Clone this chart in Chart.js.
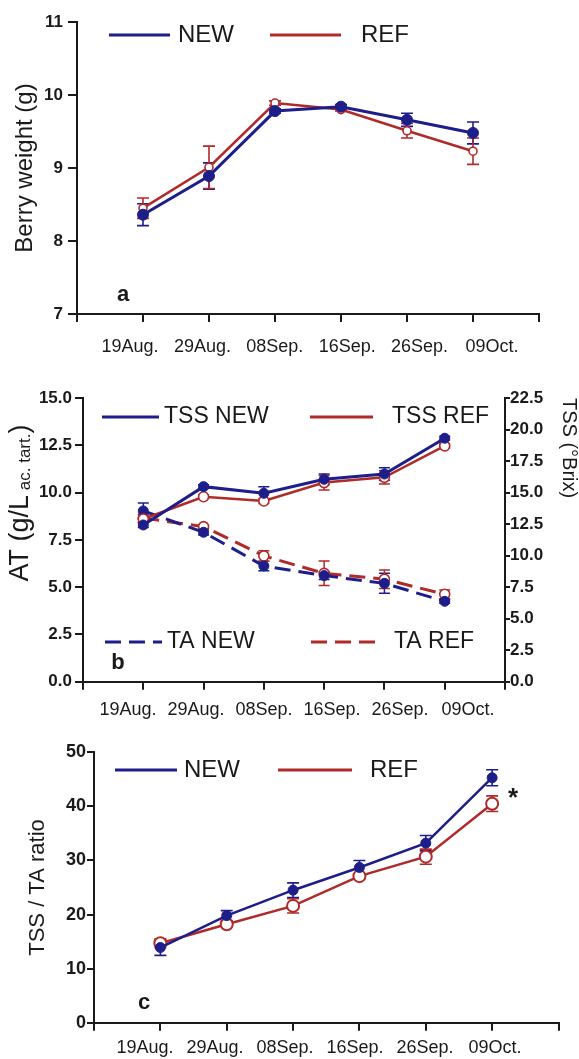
<!DOCTYPE html>
<html><head><meta charset="utf-8">
<script src="https://cdn.jsdelivr.net/npm/chart.js@4.4.1/dist/chart.umd.min.js"></script>
<style>
html,body{margin:0;padding:0;background:#fff;}
#wrap{position:relative;width:579px;height:1059px;overflow:hidden;background:#fff;}
canvas{position:absolute;left:0;}
</style></head><body>
<div id="wrap">
<canvas id="ca" width="579" height="365" style="top:0px"></canvas>
<canvas id="cb" width="579" height="360" style="top:365px"></canvas>
<canvas id="cc" width="579" height="334" style="top:725px"></canvas>
</div>
<script>
// ---------- data ----------
const DATES = ['19Aug.', '29Aug.', '08Sep.', '16Sep.', '26Sep.', '09Oct.'];

// panel a: berry weight (g)
const WEIGHT_NEW    = [8.36, 8.89, 9.78, 9.84, 9.66, 9.48];
const WEIGHT_NEW_SE = [0.15, 0.18, 0.03, 0.03, 0.09, 0.15];
const WEIGHT_REF    = [8.45, 9.01, 9.89, 9.80, 9.51, 9.23];
const WEIGHT_REF_SE = [0.14, 0.29, 0.03, 0.02, 0.10, 0.18];

// panel b: TSS (°Brix, right axis) and titratable acidity (g/L, left axis)
const TSS_NEW    = [12.43, 15.47, 14.94, 16.05, 16.47, 19.31];
const TSS_NEW_SE = [0.20, 0.15, 0.53, 0.42, 0.50, 0.15];
const TSS_REF    = [12.90, 14.67, 14.33, 15.79, 16.21, 18.70];
const TSS_REF_SE = [0.30, 0.15, 0.20, 0.58, 0.53, 0.15];
const TA_NEW     = [9.03, 7.90, 6.12, 5.61, 5.20, 4.25];
const TA_NEW_SE  = [0.42, 0.15, 0.25, 0.20, 0.53, 0.10];
const TA_REF     = [8.65, 8.20, 6.65, 5.73, 5.42, 4.62];
const TA_REF_SE  = [0.20, 0.10, 0.28, 0.65, 0.49, 0.23];

// panel c: TSS / TA ratio
const RATIO_NEW    = [13.9, 19.8, 24.5, 28.7, 33.2, 45.3];
const RATIO_NEW_SE = [1.45, 0.92, 1.35, 1.30, 1.42, 1.48];
const RATIO_REF    = [14.7, 18.2, 21.6, 27.1, 30.7, 40.5];
const RATIO_REF_SE = [0.80, 0.30, 1.32, 0.40, 1.39, 1.45];

// ---------- styling ----------
const BLUE = '#1e1e8a';
const RED = '#b02a2a';
const INK = '#1a1a1a';
const FONT = "'Liberation Sans', Arial, Helvetica, sans-serif";

function pts(arr) { return arr.map((v, i) => ({ x: i + 1, y: v })); }

// error bars drawn through the dataset's own y scale
const errorBars = {
  id: 'errorBars',
  beforeDatasetsDraw(chart, args, opts) {
    const ctx = chart.ctx;
    chart.data.datasets.forEach((ds, i) => {
      if (!ds.errors) return;
      const meta = chart.getDatasetMeta(i);
      const ys = chart.scales[meta.yAxisID];
      ctx.save();
      ctx.strokeStyle = ds.borderColor;
      ctx.lineWidth = opts.lineWidth || 1.5;
      ctx.setLineDash([]);
      const cap = opts.cap || 6;
      meta.data.forEach((el, j) => {
        const v = ds.data[j].y, e = ds.errors[j];
        const x = el.x;
        const yt = ys.getPixelForValue(v + e), yb = ys.getPixelForValue(v - e);
        ctx.beginPath();
        ctx.moveTo(x, yt); ctx.lineTo(x, yb);
        ctx.moveTo(x - cap, yt); ctx.lineTo(x + cap, yt);
        ctx.moveTo(x - cap, yb); ctx.lineTo(x + cap, yb);
        ctx.stroke();
      });
      ctx.restore();
    });
  }
};

// line legend placed inside the plot, using the dataset styles and labels
const lineLegend = {
  id: 'lineLegend',
  afterDraw(chart, args, opts) {
    const ctx = chart.ctx;
    (opts.items || []).forEach(it => {
      const ds = chart.data.datasets[it.ds];
      ctx.save();
      ctx.strokeStyle = ds.borderColor;
      ctx.lineWidth = opts.lineWidth || 3;
      ctx.setLineDash(it.dash ? ds.borderDash : []);
      ctx.beginPath(); ctx.moveTo(it.x1, it.y); ctx.lineTo(it.x2, it.y); ctx.stroke();
      ctx.setLineDash([]);
      ctx.fillStyle = INK;
      ctx.font = opts.font;
      ctx.textBaseline = 'middle';
      ctx.textAlign = 'left';
      ctx.fillText(ds.label, it.tx, it.y);
      ctx.restore();
    });
  }
};

// extra annotations (panel letters, asterisk, composite axis title)
const panelText = {
  id: 'panelText',
  afterDraw(chart, args, opts) {
    const ctx = chart.ctx;
    (opts.texts || []).forEach(t => {
      ctx.save();
      ctx.translate(t.x, t.y);
      ctx.rotate(t.rot || 0);
      ctx.fillStyle = INK;
      ctx.textBaseline = 'middle';
      ctx.textAlign = 'left';
      const parts = t.parts;
      let total = 0;
      parts.forEach(p => { ctx.font = p.font; total += ctx.measureText(p.text).width; });
      let cx = t.align === 'left' ? 0 : -total / 2;
      parts.forEach(p => {
        ctx.font = p.font;
        ctx.fillText(p.text, cx, p.dy || 0);
        cx += ctx.measureText(p.text).width;
      });
      ctx.restore();
    });
  }
};

function yAxis(o) {
  return {
    type: 'linear', position: o.position || 'left', min: o.min, max: o.max,
    ticks: { stepSize: o.step, padding: o.pad, color: INK,
      font: { family: FONT, size: o.fsize || 15, weight: 'bold' },
      callback: o.fmt || (v => v) },
    grid: { display: true, drawOnChartArea: false, drawTicks: true, tickLength: o.tick || 8, color: INK, lineWidth: 2 },
    border: { display: true, color: INK, width: 2 },
    title: o.title || { display: false },
    afterFit(s) { s.width = o.width; }
  };
}

function makeChart(id, c) {
  const xlMin = 1 - (c.labFirst - c.left) / c.labStep;
  const xlMax = xlMin + (c.right - c.left) / c.labStep;
  const scales = Object.assign({
    x: {
      type: 'linear', position: 'bottom', min: 0, max: 7, weight: 0,
      ticks: { display: false, stepSize: 1 },
      grid: { display: true, drawOnChartArea: false, drawTicks: true, tickLength: 8, color: INK, lineWidth: 2 },
      border: { display: true, color: INK, width: 2 },
      afterFit(s) { s.height = 10; }
    },
    xl: {
      type: 'linear', position: 'bottom', min: xlMin, max: xlMax, weight: 1,
      afterBuildTicks(s) { s.ticks = DATES.map((_, i) => ({ value: i + 1 })); },
      ticks: { autoSkip: false, maxRotation: 0, minRotation: 0, padding: c.labPad, color: INK,
        font: { family: FONT, size: c.labSize || 18 },
        callback: (v, i) => DATES[i] },
      grid: { display: false, drawTicks: false },
      border: { display: false },
      afterFit(s) { s.height = c.H - c.bottom - 10; }
    }
  }, c.yScales);
  return new Chart(document.getElementById(id), {
    type: 'line',
    data: { datasets: c.datasets },
    options: {
      responsive: false, maintainAspectRatio: false, animation: false, events: [],
      layout: { padding: { top: c.top, right: c.padRight, left: 0, bottom: 0 } },
      scales,
      plugins: {
        legend: { display: false }, tooltip: { enabled: false },
        errorBars: c.err, lineLegend: c.legend, panelText: { texts: c.texts }
      }
    },
    plugins: [errorBars, lineLegend, panelText]
  });
}

function newDs(label, values, errs, extra) {
  return Object.assign({
    label, data: pts(values), errors: errs, borderColor: BLUE, backgroundColor: BLUE,
    borderWidth: 3, pointRadius: 5.5, pointBackgroundColor: BLUE, pointBorderColor: BLUE,
    pointBorderWidth: 1, tension: 0, fill: false
  }, extra || {});
}
function refDs(label, values, errs, extra) {
  return Object.assign({
    label, data: pts(values), errors: errs, borderColor: RED, backgroundColor: '#fff',
    borderWidth: 2.5, pointRadius: 4.5, pointBackgroundColor: '#fff', pointBorderColor: RED,
    pointBorderWidth: 1.6, tension: 0, fill: false
  }, extra || {});
}

// ---------- panel a ----------
makeChart('ca', {
  H: 365, left: 77, right: 539, top: 22, bottom: 314, padRight: 40,
  labFirst: 130, labStep: 72.4, labPad: 12,
  yScales: {
    y: yAxis({ min: 7, max: 11, step: 1, pad: 5, tick: 9, width: 77, fsize: 17,
      title: { display: true, text: 'Berry weight (g)', color: INK, font: { family: FONT, size: 24 }, padding: { top: 10.6, bottom: 0 } } })
  },
  datasets: [
    newDs('NEW', WEIGHT_NEW, WEIGHT_NEW_SE),
    refDs('REF', WEIGHT_REF, WEIGHT_REF_SE, { pointRadius: 4 })
  ],
  err: { lineWidth: 1.6, cap: 6 },
  legend: { font: '24px ' + FONT, lineWidth: 3, items: [
    { ds: 0, x1: 109, x2: 170, y: 35, tx: 178 },
    { ds: 1, x1: 270, x2: 341, y: 35, tx: 361 }
  ] },
  texts: [ { x: 123, y: 295, parts: [{ text: 'a', font: 'bold 22px ' + FONT }] } ]
});

// ---------- panel b ----------
makeChart('cb', {
  H: 360, left: 83, right: 505, top: 33, bottom: 316.7, padRight: 0,
  labFirst: 128, labStep: 68, labPad: 7.5,
  yScales: {
    y: yAxis({ min: 0, max: 15, step: 2.5, pad: 3, tick: 8, width: 83, fsize: 17, fmt: v => v.toFixed(1) }),
    y2: yAxis({ position: 'right', min: 0, max: 22.5, step: 2.5, pad: 0, tick: 5, width: 74, fsize: 17, fmt: v => v.toFixed(1),
      title: { display: true, text: 'TSS (°Brix)', align: 'end', color: INK, font: { family: FONT, size: 20, lineHeight: 1 }, padding: 0 } })
  },
  datasets: [
    newDs('TSS NEW', TSS_NEW, TSS_NEW_SE, { yAxisID: 'y2', pointRadius: 5 }),
    refDs('TSS REF', TSS_REF, TSS_REF_SE, { yAxisID: 'y2', pointRadius: 5 }),
    newDs('TA NEW', TA_NEW, TA_NEW_SE, { yAxisID: 'y', pointRadius: 5, borderDash: [16, 8] }),
    refDs('TA REF', TA_REF, TA_REF_SE, { yAxisID: 'y', pointRadius: 5, borderWidth: 3, borderDash: [16, 8] })
  ],
  err: { lineWidth: 1.5, cap: 5.5 },
  legend: { font: '23px ' + FONT, lineWidth: 3, items: [
    { ds: 0, x1: 102, x2: 159, y: 52, tx: 164 },
    { ds: 1, x1: 310, x2: 373, y: 52, tx: 392 },
    { ds: 2, x1: 105, x2: 162, y: 277, tx: 167, dash: true },
    { ds: 3, x1: 311, x2: 376, y: 277, tx: 394, dash: true }
  ] },
  texts: [
    { x: 118, y: 298, parts: [{ text: 'b', font: 'bold 22px ' + FONT }] },
    { x: 21, y: 138, rot: -Math.PI / 2, parts: [
      { text: 'AT (g/L', font: '27px ' + FONT },
      { text: ' ac. tart.', font: '17px ' + FONT, dy: 4 },
      { text: ')', font: '27px ' + FONT } ] }
  ]
});

// ---------- panel c ----------
makeChart('cc', {
  H: 334, left: 94, right: 558.5, top: 27.3, bottom: 297.7, padRight: 20.5,
  labFirst: 145, labStep: 70, labPad: 4.5,
  yScales: {
    y: yAxis({ min: 0, max: 50, step: 10, pad: 1, tick: 7, width: 94, fsize: 18,
      title: { display: true, text: 'TSS / TA ratio', color: INK, font: { family: FONT, size: 22 }, padding: { top: 24.5, bottom: 0 } } })
  },
  datasets: [
    newDs('NEW', RATIO_NEW, RATIO_NEW_SE, { borderWidth: 2.5, pointRadius: 5 }),
    refDs('REF', RATIO_REF, RATIO_REF_SE, { borderWidth: 2.5, pointRadius: 6, pointBorderWidth: 2 })
  ],
  err: { lineWidth: 1.6, cap: 6 },
  legend: { font: '24px ' + FONT, lineWidth: 3, items: [
    { ds: 0, x1: 115, x2: 177, y: 45, tx: 184 },
    { ds: 1, x1: 278, x2: 352, y: 45, tx: 370 }
  ] },
  texts: [
    { x: 144, y: 278, parts: [{ text: 'c', font: 'bold 22px ' + FONT }] },
    { x: 513, y: 74, parts: [{ text: '*', font: 'bold 26px ' + FONT }] }
  ]
});
</script>
</body></html>
